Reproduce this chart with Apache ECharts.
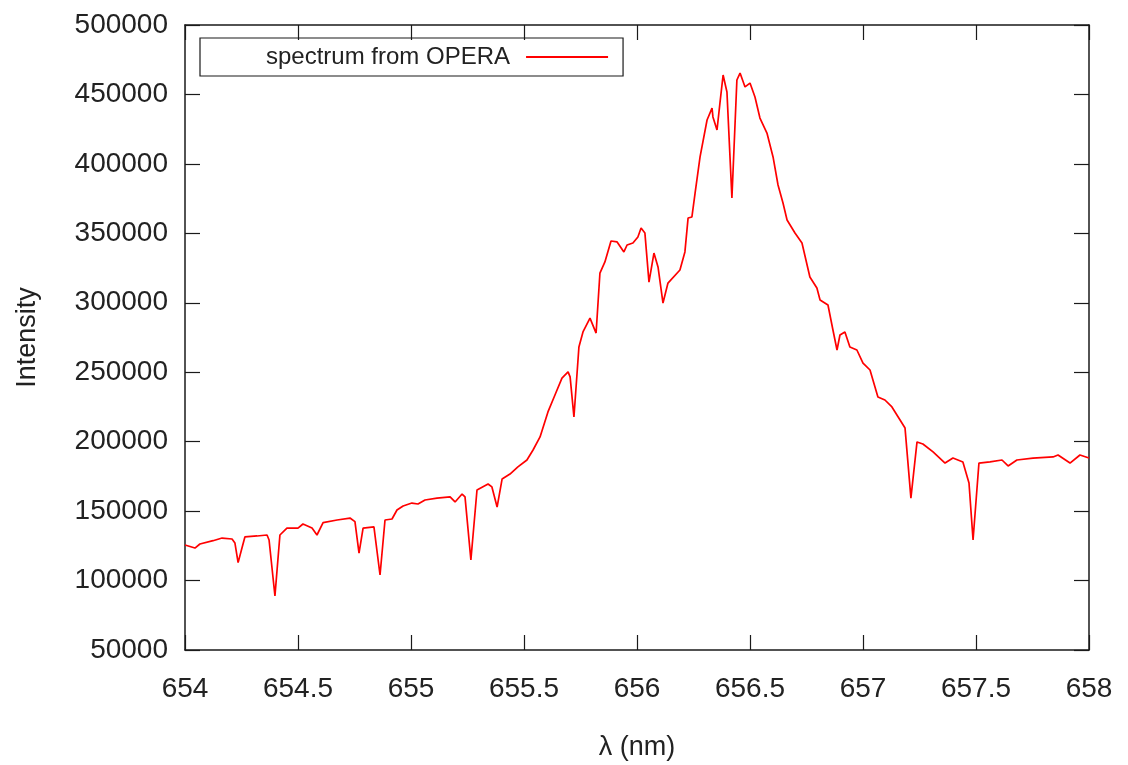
<!DOCTYPE html>
<html>
<head>
<meta charset="utf-8">
<script src="https://cdn.jsdelivr.net/npm/echarts@6/dist/echarts.min.js"></script>
<style>
html,body{margin:0;padding:0;background:#fff;}
#chart{width:1128px;height:765px;}
</style>
</head>
<body>
<div id="chart"></div>
<script>
const seriesName = 'spectrum from OPERA';
const wavelength = [
654.000,654.044,654.066,654.124,654.164,654.208,654.221,654.235,654.252,654.265,
654.319,654.363,654.372,654.398,654.420,654.451,654.500,654.522,654.562,654.584,
654.611,654.673,654.730,654.752,654.770,654.788,654.836,654.863,654.885,654.916,
654.938,654.965,655.004,655.031,655.062,655.115,655.173,655.195,655.226,655.239,
655.265,655.292,655.341,655.358,655.381,655.403,655.438,655.473,655.513,655.540,
655.571,655.606,655.637,655.668,655.695,655.704,655.721,655.743,655.761,655.792,
655.819,655.836,655.858,655.885,655.912,655.942,655.956,655.982,656.004,656.018,
656.035,656.053,656.075,656.093,656.115,656.137,656.190,656.212,656.226,656.243,
656.257,656.279,656.310,656.332,656.336,656.354,656.367,656.381,656.398,656.420,
656.442,656.456,656.478,656.500,656.522,656.544,656.575,656.602,656.624,656.646,
656.664,656.699,656.730,656.765,656.796,656.810,656.845,656.867,656.885,656.898,
656.920,656.942,656.973,657.000,657.031,657.066,657.097,657.128,657.164,657.186,
657.212,657.239,657.265,657.310,657.363,657.398,657.442,657.469,657.487,657.513,
657.562,657.615,657.642,657.681,657.752,657.841,657.863,657.916,657.960,658.000
];
const intensity = [
125600,123400,126300,128700,130600,129900,127000,112900,123400,131400,
132100,132800,129200,88900,132800,137800,137800,140700,137800,132800,
141700,143600,145000,142400,119800,137800,138600,104000,143600,144300,
150800,153700,155800,155100,158000,159400,160200,156600,162300,160200,
114800,165200,169500,167400,152900,173100,176700,181800,186800,194000,
203400,221400,233600,245800,250200,246600,217800,268200,279000,289000,
278200,321400,329400,344500,343800,336600,341600,343000,347400,353800,
350200,314900,335800,325800,299800,314200,323600,336600,361000,361800,
379000,405000,431600,440200,433800,424400,443800,464000,451800,375400,
460400,465400,455400,458200,448200,433000,422200,405000,384800,371800,
359600,350200,343000,318600,310600,302000,298400,280400,266000,276800,
279000,268200,266000,256600,251600,232200,230000,225000,215600,209800,
159400,199800,198300,192600,184600,188200,185400,170200,129200,184600,
185400,186800,182500,186800,188200,189000,190400,184600,190400,188200
];
const xName = 'λ (nm)';
const yName = 'Intensity';

const data = wavelength.map((w, i) => [w, intensity[i]]);
const font = 'Liberation Sans, Arial, sans-serif';
const axisCommon = {
  axisLine: {show: true, lineStyle: {color: '#1a1a1a', width: 1.5}},
  axisTick: {show: true, inside: true, length: 15, lineStyle: {color: '#1a1a1a', width: 1.2}},
  splitLine: {show: false}
};
const chart = echarts.init(document.getElementById('chart'), null, {renderer: 'canvas'});
chart.setOption({
  animation: false,
  backgroundColor: '#fff',
  textStyle: {fontFamily: font},
  grid: {left: 185, right: 39, top: 25, bottom: 115, containLabel: false, outerBoundsMode: 'none'},
  legend: {
    left: 200, top: 38,
    padding: [7, 15, 7, 66],
    borderColor: '#1a1a1a', borderWidth: 1.2,
    align: 'right',
    icon: 'rect', itemWidth: 82, itemHeight: 2,
    textStyle: {fontSize: 24, color: '#222', fontFamily: font, padding: [0, 11, 0, 0]},
    data: [seriesName]
  },
  xAxis: [
    Object.assign({
      type: 'value', min: 654, max: 658, interval: 0.5, position: 'bottom',
      name: xName, nameLocation: 'middle', nameGap: 84,
      nameTextStyle: {fontSize: 27, color: '#222', fontFamily: font},
      axisLabel: {fontSize: 28, color: '#222', margin: 25, fontFamily: font}
    }, axisCommon),
    Object.assign({
      type: 'value', min: 654, max: 658, interval: 0.5, position: 'top',
      axisLabel: {show: false}
    }, axisCommon)
  ],
  yAxis: [
    Object.assign({
      type: 'value', min: 50000, max: 500000, interval: 50000, position: 'left',
      name: yName, nameLocation: 'middle', nameGap: 144, nameRotate: 90,
      nameTextStyle: {fontSize: 27, color: '#222', fontFamily: font},
      axisLabel: {fontSize: 28, color: '#222', margin: 17, fontFamily: font,
        formatter: function (v) { return String(v); }}
    }, axisCommon),
    Object.assign({
      type: 'value', min: 50000, max: 500000, interval: 50000, position: 'right',
      axisLabel: {show: false}
    }, axisCommon)
  ],
  series: [{
    name: seriesName,
    type: 'line',
    xAxisIndex: 0, yAxisIndex: 0,
    showSymbol: false,
    data: data,
    color: '#ff0000',
    lineStyle: {color: '#ff0000', width: 1.7}
  }]
});
</script>
</body>
</html>
